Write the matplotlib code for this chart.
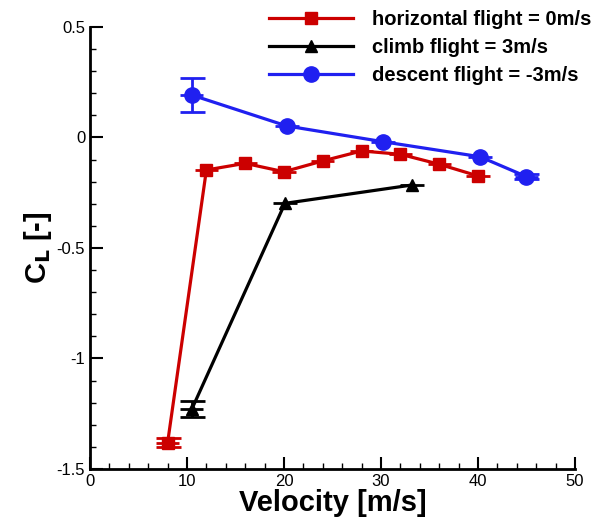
import matplotlib.pyplot as plt
from matplotlib.ticker import MultipleLocator

plt.rcParams['font.family'] = ['Liberation Sans', 'DejaVu Sans']

# horizontal flight (0 m/s)
vel_hor = [8, 12, 16, 20, 24, 28, 32, 36, 40]
cl_hor = [-1.382, -0.147, -0.117, -0.155, -0.106, -0.061, -0.076, -0.121, -0.174]
err_hor = [0.02, 0, 0, 0, 0, 0, 0, 0, 0]

# climb flight (3 m/s)
vel_climb = [10.5, 20.1, 33.2]
cl_climb = [-1.229, -0.298, -0.215]
err_climb = [0.035, 0, 0]

# descent flight (-3 m/s)
vel_desc = [10.5, 20.3, 30.2, 40.2, 45.0]
cl_desc = [0.192, 0.052, -0.019, -0.087, -0.177]
err_desc = [0.075, 0, 0, 0, 0.01]

xerr = 1.2

fig = plt.figure(figsize=(6.06, 5.18), dpi=100)
ax = fig.add_axes([0.1485, 0.0946, 0.8003, 0.8533])

series = [
    (vel_hor, cl_hor, err_hor, '#cc0000', 's', 8.5, 'horizontal flight = 0m/s'),
    (vel_climb, cl_climb, err_climb, 'black', '^', 8, 'climb flight = 3m/s'),
    (vel_desc, cl_desc, err_desc, '#2020f0', 'o', 11, 'descent flight = -3m/s'),
]
handles = []
for x, y, e, c, m, ms, lab in series:
    # vertical error bars only where they are visible
    idx = [i for i in range(len(x)) if e[i] > 0]
    ax.errorbar([x[i] for i in idx], [y[i] for i in idx], yerr=[e[i] for i in idx],
                fmt='none', ecolor=c, elinewidth=2, capsize=9, capthick=2)
    ax.errorbar(x, y, xerr=xerr, fmt='none', ecolor=c, elinewidth=2, capsize=0)
    h, = ax.plot(x, y, color=c, marker=m, markersize=ms, linewidth=2.3, label=lab)
    handles.append(h)

ax.set_xlim(0, 50)
ax.set_ylim(-1.5, 0.5)
ax.xaxis.set_major_locator(MultipleLocator(10))
ax.xaxis.set_minor_locator(MultipleLocator(2))
ax.yaxis.set_minor_locator(MultipleLocator(0.1))
ax.set_yticks([-1.5, -1, -0.5, 0, 0.5])
ax.set_yticklabels(['-1.5', '-1', '-0.5', '0', '0.5'])
ax.tick_params(which='both', direction='in', labelsize=12, width=1.5)
ax.tick_params(which='major', length=9)
ax.tick_params(which='minor', length=4.5, width=1)
ax.spines['top'].set_visible(False)
ax.spines['right'].set_visible(False)
for s in ['left', 'bottom']:
    ax.spines[s].set_linewidth(2)

ax.set_xlabel('Velocity [m/s]', fontsize=21, fontweight='bold', labelpad=0)
ax.set_ylabel(r'C$_\mathbf{L}$ [-]', fontsize=21, fontweight='bold', labelpad=2)

fig.legend(handles=handles, loc='upper right', bbox_to_anchor=(1.005, 1.015),
           frameon=False, prop={'weight': 'bold', 'size': 14.5},
           handlelength=4.2, handletextpad=0.9, labelspacing=0.45)

fig.savefig('out.png', dpi=100)
